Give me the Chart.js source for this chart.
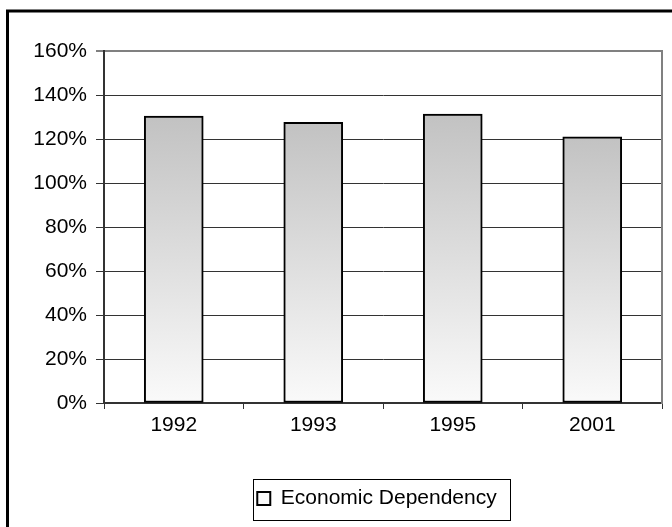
<!DOCTYPE html>
<html>
<head>
<meta charset="utf-8">
<script src="https://cdn.jsdelivr.net/npm/chart.js@4/dist/chart.umd.min.js"></script>
<style>
html,body{margin:0;padding:0;background:#fff;}
#wrap{width:672px;height:527px;position:relative;}
</style>
</head>
<body>
<div id="wrap"><canvas id="c" width="672" height="527"></canvas></div>
<script>
const categories = ['1992', '1993', '1995', '2001'];
const seriesName = 'Economic Dependency';
const dependencyValues = [130.4, 127.6, 131.3, 121.0];
const yTickValues = [0, 20, 40, 60, 80, 100, 120, 140, 160];

const FONT_FAMILY = '"Liberation Sans", Arial, sans-serif';
const FONT = { family: FONT_FAMILY, size: 21 };
const LEGEND_SHIFT = -6;

const framePlugin = {
  id: 'frame',
  beforeDraw(chart) {
    const ctx = chart.ctx;
    ctx.save();
    ctx.fillStyle = '#fff';
    ctx.fillRect(0, 0, chart.width, chart.height);
    ctx.strokeStyle = '#000';
    ctx.lineWidth = 3;
    ctx.strokeRect(7.5, 11, 900, 900);
    ctx.restore();
  },
  afterDraw(chart) {
    const ctx = chart.ctx;
    const ca = chart.chartArea;
    ctx.save();
    ctx.strokeStyle = '#808080';
    ctx.lineWidth = 2;
    ctx.beginPath();
    ctx.moveTo(ca.right, ca.top - 1);
    ctx.lineTo(ca.right, ca.bottom + 1);
    ctx.stroke();
    ctx.restore();
  }
};

const legendPlugin = {
  id: 'legendAdjust',
  afterUpdate(chart) {
    const lg = chart.legend;
    const ca = chart.chartArea;
    if (!lg || !ca) return;
    lg.left = ca.left + LEGEND_SHIFT;
    lg.right = ca.right + LEGEND_SHIFT;
    lg.width = ca.right - ca.left;
    if (lg.adjustHitBoxes) lg.adjustHitBoxes();
  },
  afterDraw(chart) {
    const lg = chart.legend;
    const ca = chart.chartArea;
    if (!lg || !ca) return;
    const ctx = chart.ctx;
    ctx.save();
    ctx.font = FONT.size + 'px ' + FONT_FAMILY;
    const tw = ctx.measureText(seriesName).width;
    const itemW = 13 + FONT.size / 2 + tw;
    const itemLeft = (lg.left + lg.right - itemW) / 2;
    const cy = lg.top + 10 + Math.max(13, FONT.size) / 2;
    const x0 = Math.round(itemLeft - 4) + 0.5;
    const x1 = Math.round(itemLeft + itemW + 13) + 0.5;
    const y0 = Math.round(cy - 20) + 0.5;
    const y1 = Math.round(cy + 21) + 0.5;
    ctx.strokeStyle = '#000';
    ctx.lineWidth = 1;
    ctx.strokeRect(x0, y0, x1 - x0, y1 - y0);
    ctx.restore();
  }
};

new Chart(document.getElementById('c'), {
  type: 'bar',
  data: {
    labels: categories,
    datasets: [{
      label: seriesName,
      data: dependencyValues,
      backgroundColor: (c) => {
        const chart = c.chart;
        const ca = chart.chartArea;
        if (!ca || c.type !== 'data' || !chart.scales.y) return '#e4e4e4';
        const yTop = chart.scales.y.getPixelForValue(c.raw);
        const yBot = chart.scales.y.getPixelForValue(0);
        const g = chart.ctx.createLinearGradient(0, yTop, 0, yBot);
        g.addColorStop(0, '#c2c2c2');
        g.addColorStop(1, '#fafafa');
        return g;
      },
      borderColor: '#000',
      borderWidth: 2,
      borderSkipped: false,
      barThickness: 59
    }]
  },
  options: {
    responsive: false,
    animation: false,
    devicePixelRatio: 1,
    layout: { padding: { left: 0, top: 51, right: 10, bottom: 8 } },
    plugins: {
      tooltip: { enabled: false },
      title: { display: false },
      legend: {
        display: true,
        position: 'bottom',
        labels: {
          font: FONT,
          color: '#000',
          boxWidth: 13,
          boxHeight: 13,
          padding: 10
        }
      }
    },
    scales: {
      x: {
        offset: true,
        grid: {
          offset: true,
          drawOnChartArea: false,
          drawTicks: true,
          tickLength: 6,
          color: '#333',
          lineWidth: 1
        },
        border: { display: true, color: '#333', width: 2 },
        ticks: { font: FONT, color: '#000', padding: 4, maxRotation: 0 },
        afterFit: (s) => { s.height = 75; }
      },
      y: {
        min: 0,
        max: 160,
        afterBuildTicks: (s) => { s.ticks = yTickValues.map(v => ({ value: v })); },
        grid: {
          drawTicks: true,
          tickLength: 8,
          color: (c) => (c.tick && c.tick.value === 160) ? '#808080' : '#333',
          lineWidth: (c) => (c.tick && c.tick.value === 160) ? 2 : 1
        },
        border: { display: true, color: '#333', width: 2 },
        ticks: {
          font: FONT,
          color: '#000',
          padding: 9,
          callback: (v) => v + '%'
        },
        afterFit: (s) => { s.width = 104; }
      }
    }
  },
  plugins: [framePlugin, legendPlugin]
});
</script>
</body>
</html>
